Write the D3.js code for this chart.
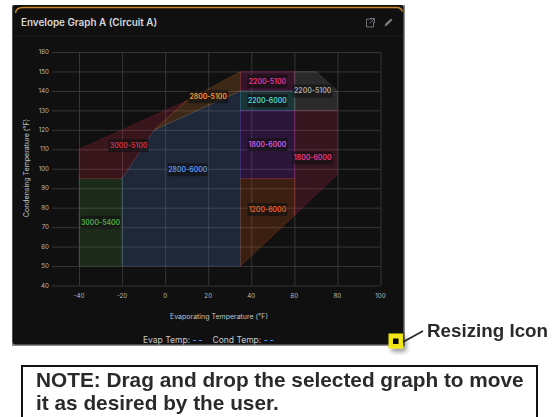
<!DOCTYPE html>
<html><head><meta charset="utf-8">
<script src="https://cdnjs.cloudflare.com/ajax/libs/d3/7.8.5/d3.min.js"></script>
<style>html,body{margin:0;padding:0;background:#fff}svg{display:block;filter:blur(0.45px)}</style>
</head><body><svg id="c" width="559" height="417"></svg>
<script>
const xTicks=[-40,-20,0,20,40,60,80,100];
const yTicks=[40,50,60,70,80,90,100,110,120,130,140,150,160];
const names=["3000-5400","3000-5100","2800-6000","2800-5100","2200-5100","2200-6000","1800-6000","1200-6000","1800-6000","2200-5100"];
const colors=["#5aa84c","#f2304c","#5f94f2","#ff9830","#e0259a","#4fd6e0","#a82ff0","#ff6a1a","#e8306a","#a0a0a0"];
const textColors=["#4fae48","#d8324a","#5794f2","#ff9830","#e8379e","#4fd6d6","#d05ae0","#f2602a","#f0388e","#a8a8a8"];
const evaps=[[-40,-40,-20,-20],[-40,-40,10,-5,-20],[-20,-20,-5,35,35],[-5,10,35,35],[35,35,60,60],[35,35,60,60],[35,35,60,60],[35,35,60,60],[60,60,80,80],[60,60,70,80,80]];
const conds=[[50,95,95,50],[95,110,135,120,95],[50,95,120,140,50],[120,135,150,140],[140,150,150,140],[130,140,140,130],[95,130,130,95],[50,95,95,76],[76,130,130,97],[130,150,150,140,130]];
const labelX=[-30,-17,10.5,20,47.5,47.5,47.5,47.5,68.5,68.5];
const labelY=[72.5,112,99.5,137,145,135,112.5,79,105.5,140];

const svg=d3.select("#c");
const defs=svg.append("defs");
const sh=defs.append("filter").attr("id","sh").attr("x","-50%").attr("y","-50%").attr("width","200%").attr("height","200%");
sh.append("feDropShadow").attr("dx",3).attr("dy",3).attr("stdDeviation",2.5).attr("flood-color","#000").attr("flood-opacity",.45);

// panel
svg.append("rect").attr("x",12).attr("y",5).attr("width",393).attr("height",341).attr("fill","#8a8a8a");
svg.append("rect").attr("x",12.5).attr("y",5).attr("width",391).attr("height",339.5).attr("rx",3).attr("fill","#101010");
svg.append("path").attr("d","M15.5 13 Q16 7.5 23 7.5 H397 Q401 7.5 402.5 11.5").attr("fill","none").attr("stroke","#c8882a").attr("stroke-width",1.4);
svg.append("line").attr("x1",13).attr("x2",403).attr("y1",36).attr("y2",36).attr("stroke","#1d1d1d");
svg.append("text").attr("x",21).attr("y",26).attr("font-family","Inter").attr("font-weight",600).attr("font-size",9.9).attr("fill","#d8d9da").text("Envelope Graph A (Circuit A)");
// icons
svg.append("path").attr("d","M372 19H366.5V27H373.5V22 M370 18.5H374.5V23 M374 19L369.5 23.5").attr("fill","none").attr("stroke","#6e7278").attr("stroke-width",1);
svg.append("path").attr("d","M384.5 26.5L385.5 23.5L391 18.5L392.5 20L387 25.5Z").attr("fill","#7a7d82");

const x=d3.scaleLinear().domain([-40,100]).range([79,380.5]);
const y=d3.scaleLinear().domain([40,160]).range([285.5,52]);
const font="Inter";

const gy=svg.append("g").attr("transform","translate(52,0)")
  .call(d3.axisRight(y).tickValues(yTicks).tickSize(x(100)-52).tickFormat(""));
gy.select(".domain").remove();
gy.selectAll("line").attr("stroke","#3a3a3a").attr("stroke-width",.9);
const gx=svg.append("g").attr("transform","translate(0,52)")
  .call(d3.axisBottom(x).tickValues(xTicks).tickSize(y(40)-52).tickFormat(""));
gx.select(".domain").remove();
gx.selectAll("line").attr("stroke","#3a3a3a").attr("stroke-width",.9);

const line=d3.line().x(d=>x(d[0])).y(d=>y(d[1]));
names.forEach((n,i)=>{
  const pts=d3.zip(evaps[i],conds[i]);
  svg.append("path").attr("d",line(pts)+"Z").attr("fill",colors[i]).attr("fill-opacity",.18)
    .attr("stroke",colors[i]).attr("stroke-opacity",.25).attr("stroke-width",.7);
});

// tick labels
const ax=svg.append("g").attr("font-family",font).attr("font-size",6.2).attr("fill","#bdbdbd");
ax.selectAll(".yt").data(yTicks).join("text").attr("x",49).attr("y",d=>y(d)+2.2).attr("text-anchor","end").text(d=>d);
ax.selectAll(".xt").data(xTicks).join("text").attr("x",d=>x(d)).attr("y",298).attr("text-anchor","middle").text(d=>d);
svg.append("text").attr("x",219).attr("y",318.5).attr("text-anchor","middle").attr("font-family",font).attr("font-size",7).attr("fill","#c4c4c4").text("Evaporating Temperature (°F)");
svg.append("text").attr("transform","translate(29,168) rotate(-90)").attr("text-anchor","middle").attr("font-family",font).attr("font-size",7).attr("fill","#c4c4c4").text("Condensing Temperature (°F)");

// region labels
names.forEach((n,i)=>{
  const g=svg.append("g").attr("transform",`translate(${x(labelX[i])},${y(labelY[i])})`);
  g.append("rect").attr("x",-20).attr("y",-6.5).attr("width",40).attr("height",13).attr("rx",1).attr("fill","#101010").attr("fill-opacity",.62);
  g.append("text").attr("y",2.4).attr("text-anchor","middle").attr("font-family",font).attr("font-weight",600).attr("font-size",6.9).attr("fill",textColors[i]).text(n);
});

// readout
const r=svg.append("text").attr("x",143).attr("y",343).attr("font-family",font).attr("font-size",8.5).attr("fill","#c8c8c8");
r.append("tspan").text("Evap Temp: ");
r.append("tspan").attr("fill","#5794f2").attr("font-weight",700).text("- -");
r.append("tspan").attr("dx",10).text("Cond Temp: ");
r.append("tspan").attr("fill","#5794f2").attr("font-weight",700).text("- -");

// resize callout
svg.append("rect").attr("x",388.5).attr("y",333.5).attr("width",14.5).attr("height",15).attr("fill","#f2e614").attr("filter","url(#sh)");
svg.append("rect").attr("x",393).attr("y",338.5).attr("width",5.5).attr("height",5.5).attr("fill","#000");
svg.append("line").attr("x1",403).attr("y1",342).attr("x2",423).attr("y2",331).attr("stroke","#222").attr("stroke-width",1.6);
svg.append("text").attr("x",427).attr("y",336.5).attr("font-family","Liberation Sans").attr("font-weight",700).attr("font-size",18.8).attr("fill","#2a2a2a").text("Resizing Icon");

// note
svg.append("rect").attr("x",22).attr("y",366).attr("width",515).attr("height",62).attr("fill","#fff").attr("stroke","#111").attr("stroke-width",2);
const note=svg.append("g").attr("font-family","Liberation Sans").attr("font-weight",700).attr("font-size",20.8).attr("fill","#2a2a2a");
note.append("text").attr("x",36).attr("y",387).text("NOTE: Drag and drop the selected graph to move");
note.append("text").attr("x",36).attr("y",410).text("it as desired by the user.");
</script></body></html>
